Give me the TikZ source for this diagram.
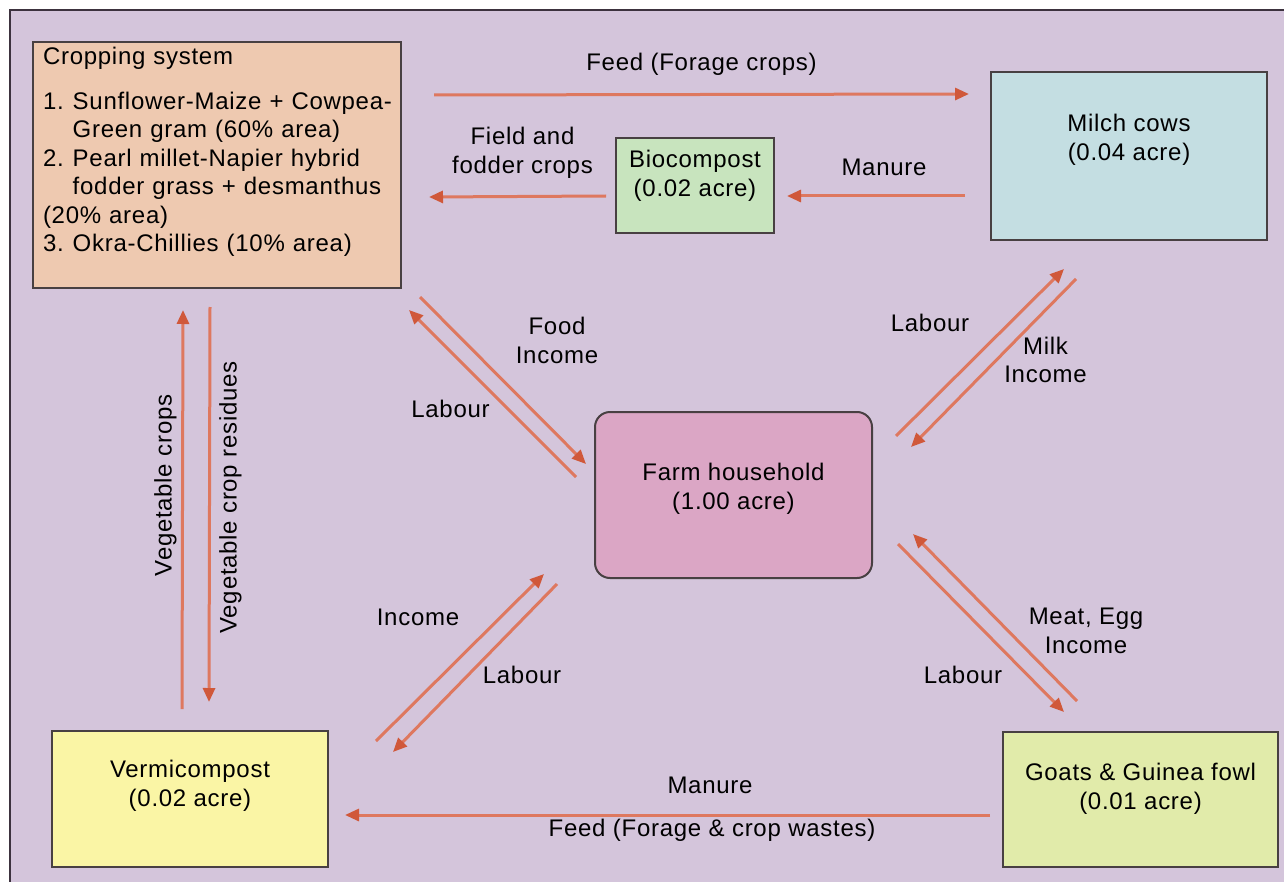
\documentclass[tikz,border=0pt]{standalone}
\usepackage{fontspec}
\setmainfont{Liberation Sans}[LetterSpace=3]
\usetikzlibrary{arrows.meta,calc,positioning}

\definecolor{bgc}{RGB}{212,197,219}
\definecolor{framec}{RGB}{60,50,62}
\definecolor{boxline}{RGB}{72,64,66}
\definecolor{cropfill}{RGB}{238,201,176}
\definecolor{biofill}{RGB}{200,228,190}
\definecolor{milchfill}{RGB}{196,222,226}
\definecolor{farmfill}{RGB}{219,166,197}
\definecolor{vermfill}{RGB}{250,245,165}
\definecolor{goatfill}{RGB}{225,235,170}
\definecolor{flowline}{RGB}{222,120,95}
\definecolor{flowhead}{RGB}{208,88,58}

\newcommand{\lift}[1]{\rule[-#1]{0pt}{0pt}}

\tikzset{
  box/.style={draw=boxline, line width=1pt, inner sep=0pt, align=center},
  flow/.style={draw=flowline, line width=1.5pt, -{Triangle[length=7pt,width=6pt,color=flowhead]}},
  lbl/.style={inner sep=0pt, align=center, text=black},
}

\begin{document}
\begin{tikzpicture}[x=0.5pt, y=-0.5pt, font=\fontsize{12}{14.25}\selectfont]

  \useasboundingbox (0,0) rectangle (1284,882);
  \fill[white] (0,0) rectangle (1284,882);
  \fill[bgc] (10,10) rectangle (1284,882);
  \draw[framec, line width=1pt] (10,882) -- (10,10) -- (1284,10);

  %% boxes
  \node[box, fill=cropfill, anchor=north west, text width=174pt, inner xsep=5pt, minimum height=123pt, align=left] (crop) at (32,41) {%
    \begin{tabular}{@{}l@{\hspace{4.5pt}}l@{}}
      \multicolumn{2}{@{}l@{}}{Cropping system}\\[8pt]
      1. & Sunflower-Maize + Cowpea-\\
         & Green gram (60\% area)\\
      2. & Pearl millet-Napier hybrid\\
         & fodder grass + desmanthus\\
      \multicolumn{2}{@{}l@{}}{(20\% area)}\\
      3. & Okra-Chillies (10\% area)\lift{16.8pt}
    \end{tabular}};
  \node[box, fill=biofill, minimum width=79pt, minimum height=47.5pt] (bio) at (695,185.5) {Biocompost\\(0.02 acre)\lift{12pt}};
  \node[box, fill=milchfill, minimum width=138pt, minimum height=84pt] (milch) at (1129,156) {Milch cows\\(0.04 acre)\lift{18.5pt}};
  \node[box, fill=farmfill, rounded corners=7.5pt, minimum width=138.5pt, minimum height=83pt] (farm) at (733.5,495) {Farm household\\(1.00 acre)\lift{8.5pt}};
  \node[box, fill=vermfill, minimum width=138pt, minimum height=68pt] (verm) at (190,799) {Vermicompost\\(0.02 acre)\lift{15.5pt}};
  \node[box, fill=goatfill, minimum width=137.5pt, minimum height=67.5pt] (goats) at (1140.5,799.5) {Goats \& Guinea fowl\\(0.01 acre)\lift{13pt}};

  %% top row
  \draw[flow] ($(crop.north east)+(32,54)$) -- node[lbl, yshift=15pt]{Feed (Forage crops)} ($(milch.north west)+(-21,23)$); % crop->milch
  \draw[flow] ($(bio.west)+(-9,10.5)$) -- node[lbl, xshift=2.5pt, yshift=21.75pt]{Field and\\fodder crops} ($(crop.east)+(27,32)$); % bio->crop
  \draw[flow] ($(milch.west)+(-25,40)$) -- node[lbl, xshift=4pt, yshift=14.5pt]{Manure} ($(bio.east)+(12,10.5)$); % milch->bio

  %% crop <-> farm
  \draw[flow] ($(crop.south east)+(18,8)$) -- node[lbl, xshift=27pt, yshift=20pt]{Food\\Income} ($(farm.north west)+(-8,53)$);
  \draw[flow] ($(farm.north west)+(-18,66)$) -- node[lbl, xshift=-21pt, yshift=-7.5pt]{Labour} ($(crop.south east)+(7,21)$);

  %% milch <-> farm
  \draw[flow] ($(farm.north east)+(23,25)$) -- node[lbl, xshift=-25pt, yshift=15pt]{Labour} ($(milch.south west)+(74,28)$);
  \draw[flow] ($(milch.south west)+(86,38)$) -- node[lbl, xshift=26pt, yshift=1.5pt]{Milk\\Income} ($(farm.north east)+(38,36)$);

  %% goats <-> farm
  \draw[flow] ($(goats.north west)+(75,-30)$) -- node[lbl, xshift=45.5pt, yshift=-6.75pt]{Meat, Egg\\Income} ($(farm.south east)+(40,-45)$);
  \draw[flow] ($(farm.south east)+(25,-35)$) -- node[lbl, xshift=-9pt, yshift=-23.5pt]{Labour} ($(goats.north west)+(62,-19)$);

  %% verm <-> farm
  \draw[flow] ($(verm.north east)+(47,11)$) -- node[lbl, xshift=-21pt, yshift=20pt]{Income} ($(farm.south west)+(-50,-5)$);
  \draw[flow] ($(farm.south west)+(-37,5)$) -- node[lbl, xshift=23.5pt, yshift=-3.5pt]{Labour} ($(verm.north east)+(64,22)$);

  %% verm <-> crop
  \draw[flow] ($(verm.north)+(-8,-21)$) -- node[lbl, xshift=-8.5pt, yshift=12pt, rotate=90]{Vegetable crops} ($(crop.south)+(-34,21)$);
  \draw[flow] ($(crop.south)+(-7,18)$) -- node[lbl, xshift=10.5pt, yshift=3.5pt, rotate=90]{Vegetable crop residues} ($(verm.north)+(19,-28)$);

  %% goats -> verm
  \draw[flow] ($(goats.west)+(-12,15.5)$) -- node[lbl, xshift=21.25pt, yshift=15pt]{Manure} node[lbl, xshift=22.25pt, yshift=-7.5pt]{Feed (Forage \& crop wastes)} ($(verm.east)+(16,16)$);

\end{tikzpicture}
\end{document}
